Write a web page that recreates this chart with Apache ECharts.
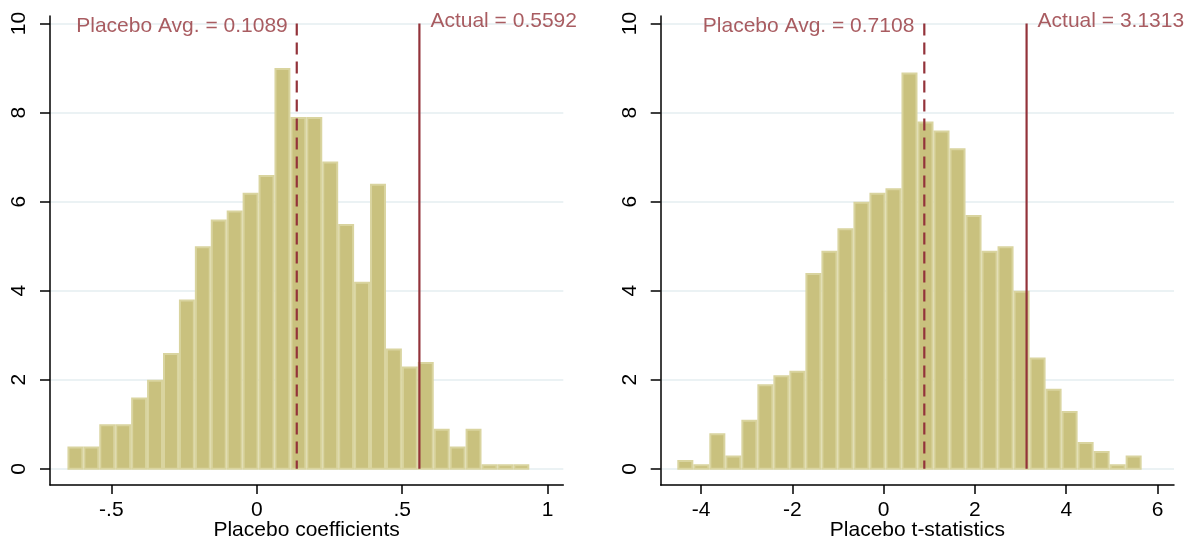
<!DOCTYPE html>
<html>
<head>
<meta charset="utf-8">
<script src="https://cdn.jsdelivr.net/npm/echarts@6/dist/echarts.min.js"></script>
<style>
  html, body { margin: 0; padding: 0; background: #fff; }
  #chart { width: 1189px; height: 541px; }
</style>
</head>
<body>
<div id="chart"></div>
<script>
// histogram of placebo coefficients (bin heights)
const coefBinStart = -0.651
const coefBinWidth = 0.05476
const coefHeights = [0.5, 0.5, 1.0, 1.0, 1.6, 2.0, 2.6, 3.8, 5.0, 5.6, 5.8, 6.2, 6.6, 9.0, 7.9,
  7.9, 6.9, 5.5, 4.2, 6.4, 2.7, 2.3, 2.4, 0.9, 0.5, 0.9, 0.1, 0.1, 0.1]
const coefAvgPos = 0.1375
const coefActual = 0.5592
const coefAvgText = 'Placebo Avg. = 0.1089'
const coefActualText = 'Actual = 0.5592'
const coefTicks = [-0.5, 0, 0.5, 1]
const coefTickLabels = ['-.5', '0', '.5', '1']

// histogram of placebo t-statistics
const tBinStart = -4.523
const tBinWidth = 0.3509
const tHeights = [0.2, 0.1, 0.8, 0.3, 1.1, 1.9, 2.1, 2.2, 4.4, 4.9, 5.4, 6.0, 6.2, 6.3, 8.9,
  7.8, 7.6, 7.2, 5.7, 4.9, 5.0, 4.0, 2.5, 1.8, 1.3, 0.6, 0.4, 0.1, 0.3]
const tAvgPos = 0.89
const tActual = 3.1313
const tAvgText = 'Placebo Avg. = 0.7108'
const tActualText = 'Actual = 3.1313'
const tTicks = [-4, -2, 0, 2, 4, 6]
const tTickLabels = ['-4', '-2', '0', '2', '4', '6']

const yTicks = [0, 2, 4, 6, 8, 10]

const FONT = '"Liberation Sans", Arial, Helvetica, sans-serif'
const RED = '#93333a'

function histData(start, width, heights) {
  return heights.map((h, i) => [start + i * width, start + (i + 1) * width, h])
}

function xAxisOf(idx, min, max, ticks, labels, name) {
  return {
    type: 'value', gridIndex: idx, min: min, max: max,
    name: name, nameLocation: 'middle', nameGap: 35, nameMoveOverlap: false,
    nameTextStyle: { color: '#000', fontSize: 21, fontFamily: FONT },
    axisLine: { show: true, onZero: false, lineStyle: { color: '#000', width: 1.5 } },
    axisTick: { show: true, length: 9, customValues: ticks, lineStyle: { color: '#000', width: 1.5 } },
    axisLabel: {
      customValues: ticks, margin: 15, color: '#000', fontSize: 21, fontFamily: FONT,
      formatter: v => labels[ticks.indexOf(v)]
    },
    splitLine: { show: false }
  }
}

function yAxisOf(idx) {
  return {
    type: 'value', gridIndex: idx, min: -0.364, max: 10.17,
    axisLine: { show: true, onZero: false, lineStyle: { color: '#000', width: 1.5 } },
    axisTick: { show: true, length: 10, customValues: yTicks, lineStyle: { color: '#000', width: 1.5 } },
    axisLabel: {
      customValues: yTicks, rotate: 90, margin: 20, color: '#000', fontSize: 21, fontFamily: FONT
    },
    splitLine: { show: true, lineStyle: { color: '#e5eef1', width: 1.6 } }
  }
}

function histSeries(idx, data) {
  return {
    type: 'custom', xAxisIndex: idx, yAxisIndex: idx,
    data: data,
    renderItem: (params, api) => {
      const p0 = api.coord([api.value(0), api.value(2)])
      const p1 = api.coord([api.value(1), 0])
      return {
        type: 'rect',
        shape: { x: p0[0] + 1, y: p0[1] + 1, width: p1[0] - p0[0] - 2, height: p1[1] - p0[1] - 1 },
        style: { fill: '#c9c17e', stroke: '#d9d49f', lineWidth: 2 }
      }
    },
    z: 2
  }
}

function vline(idx, x, dashed) {
  return {
    type: 'line', xAxisIndex: idx, yAxisIndex: idx,
    data: [[x, 10], [x, 0]],
    symbol: 'none', silent: true,
    lineStyle: { color: RED, width: 2.2, type: dashed ? [12, 7] : 'solid' },
    z: 3
  }
}

function vlabel(idx, x, text, pos, dy, dist) {
  return {
    type: 'scatter', xAxisIndex: idx, yAxisIndex: idx,
    data: [[x, 10]], symbolSize: 0, silent: true,
    label: {
      show: true, position: pos, distance: dist, offset: [0, dy],
      formatter: text, color: RED, fontSize: 21, fontFamily: FONT
    },
    z: 4
  }
}

const chart = echarts.init(document.getElementById('chart'))
chart.setOption({
  animation: false,
  grid: [
    { left: 50, right: 625.7, top: 16, bottom: 56, outerBoundsMode: 'none', containLabel: false },
    { left: 660.7, right: 15, top: 16, bottom: 56, outerBoundsMode: 'none', containLabel: false }
  ],
  xAxis: [
    xAxisOf(0, -0.711, 1.054, coefTicks, coefTickLabels, 'Placebo coefficients'),
    xAxisOf(1, -4.887, 6.362, tTicks, tTickLabels, 'Placebo t-statistics')
  ],
  yAxis: [yAxisOf(0), yAxisOf(1)],
  series: [
    histSeries(0, histData(coefBinStart, coefBinWidth, coefHeights)),
    vline(0, coefAvgPos, true),
    vline(0, coefActual, false),
    vlabel(0, coefAvgPos, coefAvgText, 'left', 2.5, 9),
    vlabel(0, coefActual, coefActualText, 'right', -2, 11),
    histSeries(1, histData(tBinStart, tBinWidth, tHeights)),
    vline(1, tAvgPos, true),
    vline(1, tActual, false),
    vlabel(1, tAvgPos, tAvgText, 'left', 2.5, 10),
    vlabel(1, tActual, tActualText, 'right', -2, 11)
  ]
})
</script>
</body>
</html>
